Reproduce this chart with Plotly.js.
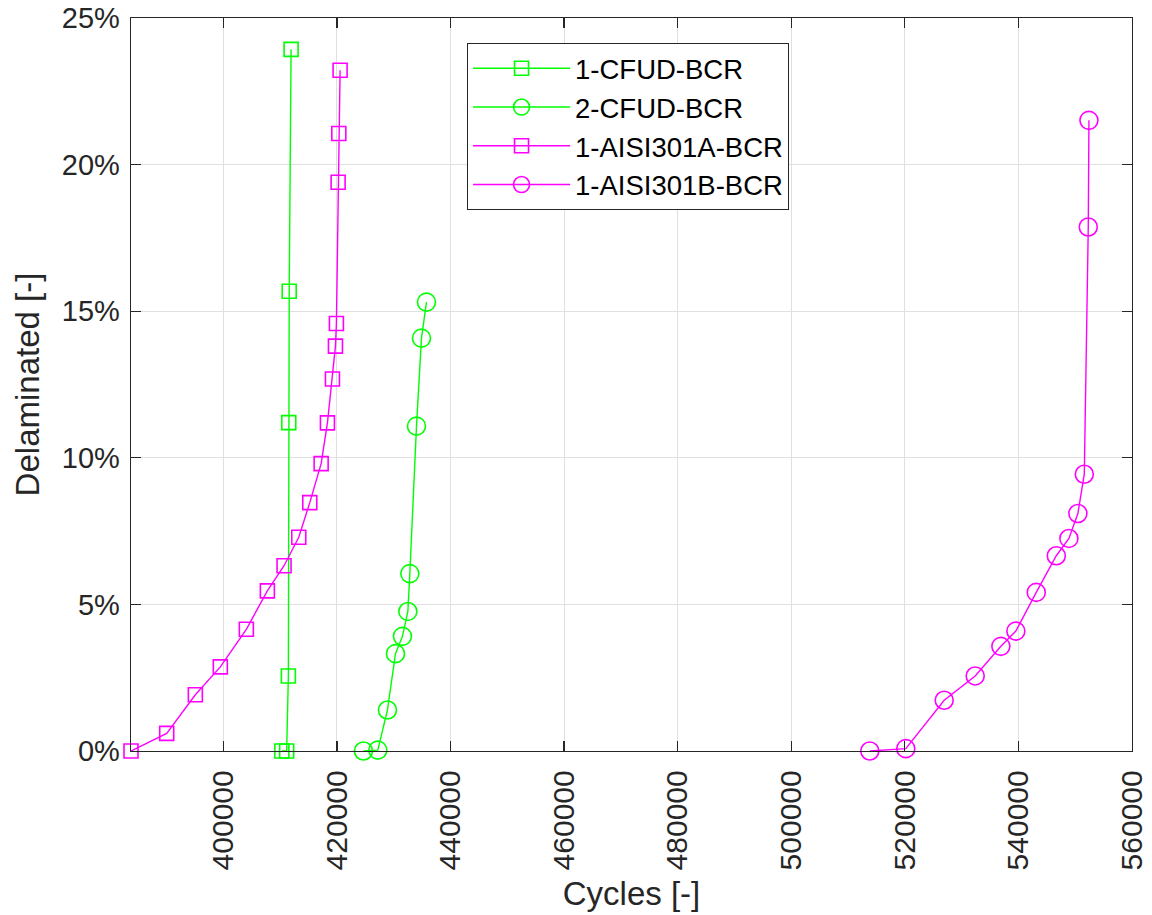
<!DOCTYPE html>
<html>
<head>
<meta charset="utf-8">
<script src="https://cdn.plot.ly/plotly-3.0.1.min.js"></script>
<style>
  html, body { margin: 0; padding: 0; background: #ffffff; }
  #chart { width: 1152px; height: 915px; }
</style>
</head>
<body>
<div id="chart"></div>
<script>
// Delamination growth versus load cycles for four specimens
const cfud1Cycles = [410300, 411150, 411450, 411520, 411600, 411930];
const cfud1Delam  = [0, 0, 2.56, 11.20, 15.68, 23.93];

const cfud2Cycles = [424670, 427200, 428900, 430310, 431540, 432490, 432840, 434010, 434890, 435770];
const cfud2Delam  = [0, 0.03, 1.40, 3.32, 3.91, 4.76, 6.05, 11.08, 14.08, 15.31];

const aisiACycles = [383740, 390030, 395070, 399470, 404050, 407750, 410690, 413280, 415220,
                     417220, 418330, 419210, 419740, 419910, 420210, 420330, 420560];
const aisiADelam  = [0, 0.60, 1.92, 2.87, 4.15, 5.46, 6.32, 7.29, 8.47,
                     9.80, 11.19, 12.69, 13.81, 14.58, 19.40, 21.06, 23.22];

const aisiBCycles = [513830, 520170, 526930, 532390, 536910, 539550, 543140, 546670, 548890,
                     550470, 551600, 552300, 552420];
const aisiBDelam  = [0, 0.08, 1.73, 2.56, 3.57, 4.09, 5.41, 6.66, 7.25,
                     8.10, 9.44, 17.87, 21.51];

const seriesNames = ['1-CFUD-BCR', '2-CFUD-BCR', '1-AISI301A-BCR', '1-AISI301B-BCR'];

const xTickVals = [400000, 420000, 440000, 460000, 480000, 500000, 520000, 540000, 560000];
const xTickText = ['400000', '420000', '440000', '460000', '480000', '500000', '520000', '540000', '560000'];
const yTickVals = [0, 5, 10, 15, 20, 25];
const yTickText = ['0%', '5%', '10%', '15%', '20%', '25%'];

const GREEN = '#00ff00';
const MAGENTA = '#ff00ff';
const AXIS = '#262626';
const FONT = '"Liberation Sans", Arial, Helvetica, sans-serif';

function series(x, y, name, color, symbol, size) {
  return {
    type: 'scatter',
    mode: 'lines+markers',
    x: x, y: y, name: name,
    cliponaxis: false,
    line: { color: color, width: 1.4 },
    marker: { symbol: symbol, size: size, color: color, line: { color: color, width: 1.6 } }
  };
}

const traces = [
  series(cfud1Cycles, cfud1Delam, seriesNames[0], GREEN, 'square-open', 14),
  series(cfud2Cycles, cfud2Delam, seriesNames[1], GREEN, 'circle-open', 18),
  series(aisiACycles, aisiADelam, seriesNames[2], MAGENTA, 'square-open', 14),
  series(aisiBCycles, aisiBDelam, seriesNames[3], MAGENTA, 'circle-open', 18)
];

const layout = {
  width: 1152,
  height: 915,
  margin: { l: 131, r: 20, t: 18, b: 164 },
  paper_bgcolor: '#ffffff',
  plot_bgcolor: '#ffffff',
  font: { family: FONT, color: AXIS },
  showlegend: true,
  legend: {
    x: 0.3357, y: 0.966, xanchor: 'left', yanchor: 'top',
    bgcolor: '#ffffff', bordercolor: AXIS, borderwidth: 1,
    font: { family: FONT, size: 27.5, color: '#000000' },
    itemwidth: 97
  },
  xaxis: {
    range: [383740, 560000],
    tickmode: 'array', tickvals: xTickVals, ticktext: xTickText,
    tickangle: -90,
    ticks: 'inside', ticklen: 10, tickwidth: 1.3, tickcolor: AXIS,
    showline: true, linecolor: AXIS, linewidth: 1.3, mirror: 'allticks',
    showgrid: true, gridcolor: '#e0e0e0', gridwidth: 1, zeroline: false,
    tickfont: { family: FONT, size: 30, color: AXIS },
    ticklabelstandoff: 6,
    title: { text: 'Cycles [-]', font: { family: FONT, size: 33, color: AXIS }, standoff: 12 }
  },
  yaxis: {
    range: [0, 25],
    tickmode: 'array', tickvals: yTickVals, ticktext: yTickText,
    ticks: 'inside', ticklen: 10, tickwidth: 1.3, tickcolor: AXIS,
    showline: true, linecolor: AXIS, linewidth: 1.3, mirror: 'allticks',
    showgrid: true, gridcolor: '#e0e0e0', gridwidth: 1, zeroline: false,
    tickfont: { family: FONT, size: 29, color: AXIS },
    ticklabelstandoff: 4,
    title: { text: 'Delaminated [-]', font: { family: FONT, size: 33, color: AXIS }, standoff: 12 }
  }
};

Plotly.newPlot('chart', traces, layout, { displayModeBar: false, staticPlot: true });
</script>
</body>
</html>
